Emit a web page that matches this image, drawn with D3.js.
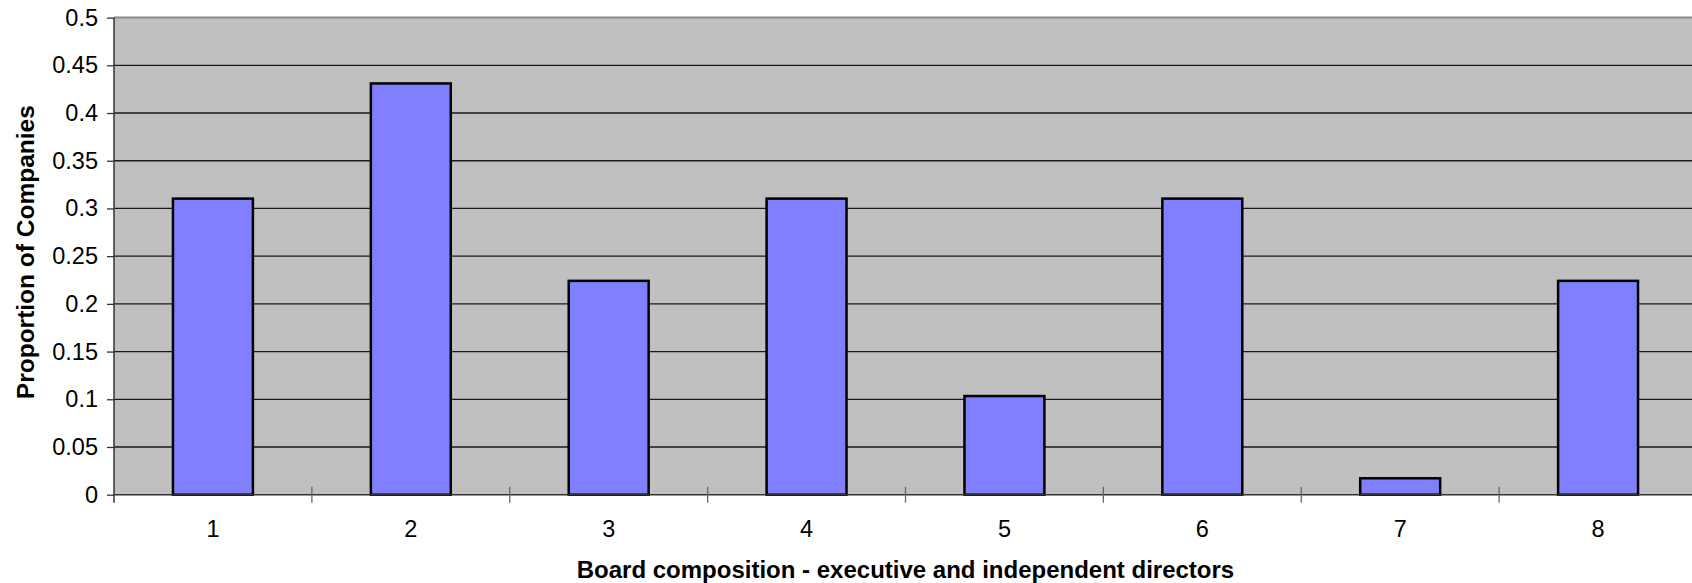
<!DOCTYPE html>
<html>
<head>
<meta charset="utf-8">
<script src="https://cdn.jsdelivr.net/npm/d3@7"></script>
<style>
  html, body { margin: 0; padding: 0; background: #fff; }
  svg { display: block; }
  text { font-family: "Liberation Sans", Arial, Helvetica, sans-serif; fill: #000; }
</style>
</head>
<body>
<svg id="chart" width="1692" height="583"></svg>
<script>
const categories = ["1", "2", "3", "4", "5", "6", "7", "8"];
const values = [0.3103, 0.4310, 0.2241, 0.3103, 0.1034, 0.3103, 0.0172, 0.2241];
const yTicks = [0, 0.05, 0.1, 0.15, 0.2, 0.25, 0.3, 0.35, 0.4, 0.45, 0.5];
const yTickLabels = ["0", "0.05", "0.1", "0.15", "0.2", "0.25", "0.3", "0.35", "0.4", "0.45", "0.5"];
const xTitle = "Board composition - executive and independent directors";
const yTitle = "Proportion of Companies";

const svg = d3.select("#chart");
const pLeft = 114, pRight = 1697, pTop = 17.6, pBottom = 494.7;

const x = d3.scaleBand().domain(categories).range([pLeft, pRight])
  .paddingInner(0.596).paddingOuter(0.298);
const y = d3.scaleLinear().domain([0, 0.5]).range([pBottom, pTop]);

// plot background
svg.append("rect").attr("x", pLeft).attr("y", pTop)
  .attr("width", pRight - pLeft).attr("height", pBottom - pTop)
  .attr("fill", "#c0c0c0");

// top border
svg.append("line").attr("x1", pLeft).attr("x2", pRight)
  .attr("y1", pTop).attr("y2", pTop)
  .attr("stroke", "#8a8a8a").attr("stroke-width", 2);

// gridlines
svg.append("g").selectAll("line").data(yTicks.filter(d => d > 0 && d < 0.5)).join("line")
  .attr("x1", pLeft).attr("x2", pRight)
  .attr("y1", d => y(d)).attr("y2", d => y(d))
  .attr("stroke", "#1a1a1a").attr("stroke-width", 1.3);

// bars
svg.append("g").selectAll("rect").data(values).join("rect")
  .attr("x", (d, i) => x(categories[i]))
  .attr("width", x.bandwidth())
  .attr("y", d => y(d))
  .attr("height", d => y(0) - y(d))
  .attr("fill", "#8080ff")
  .attr("stroke", "#000").attr("stroke-width", 2.5);

// y axis
const yAxis = d3.axisLeft(y).tickValues(yTicks)
  .tickFormat((d, i) => yTickLabels[i]).tickSize(7).tickPadding(9).tickSizeOuter(0);
const gy = svg.append("g").attr("transform", `translate(${pLeft},0)`).call(yAxis);
gy.select(".domain").remove();
gy.selectAll(".tick line").attr("stroke", "#333").attr("stroke-width", 1.3);
gy.selectAll(".tick text").style("font-size", "23.5px").attr("fill", "#000");
svg.append("line").attr("x1", pLeft).attr("x2", pLeft)
  .attr("y1", pTop).attr("y2", pBottom + 8)
  .attr("stroke", "#333").attr("stroke-width", 1.5);

// x axis
const xAxis = d3.axisBottom(x).tickSize(0).tickPadding(26);
const gx = svg.append("g").attr("transform", `translate(0,${pBottom})`).call(xAxis);
gx.select(".domain").remove();
gx.selectAll(".tick text").style("font-size", "23.5px").attr("fill", "#000");
svg.append("line").attr("x1", pLeft).attr("x2", pRight)
  .attr("y1", pBottom).attr("y2", pBottom)
  .attr("stroke", "#333").attr("stroke-width", 1.5);
// boundary ticks crossing the axis
const boundaries = categories.map((c, i) => x(c) - x.step() * x.paddingInner() / 2).concat([pRight]);
svg.append("g").selectAll("line").data(boundaries.slice(1)).join("line")
  .attr("x1", d => d).attr("x2", d => d)
  .attr("y1", pBottom - 8).attr("y2", pBottom + 8)
  .attr("stroke", "#666").attr("stroke-width", 1.3);

// titles
svg.append("text").attr("x", (pLeft + pRight) / 2).attr("y", 578)
  .attr("text-anchor", "middle").style("font-size", "24px").style("font-weight", "bold")
  .text(xTitle);
svg.append("text")
  .attr("transform", `translate(34,${(pTop + pBottom) / 2 - 4}) rotate(-90)`)
  .attr("text-anchor", "middle").style("font-size", "24.5px").style("font-weight", "bold")
  .text(yTitle);
</script>
</body>
</html>
